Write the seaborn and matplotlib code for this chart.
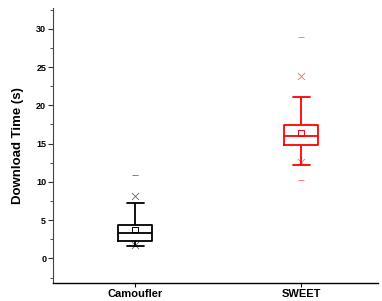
import numpy as np
import pandas as pd
import matplotlib
matplotlib.use('Agg')
import matplotlib.pyplot as plt
import seaborn as sns
from matplotlib.ticker import MultipleLocator

# =============================
# Data
# =============================
systems = ['Camoufler', 'SWEET']
colors = ['black', '#ff0000']

# five-number boxes: whisker low, q1, median, q3, whisker high
camoufler_box = [1.6, 2.26, 3.35, 4.43, 7.26]
sweet_box = [12.26, 14.86, 15.95, 17.47, 21.08]

means = [3.78, 16.34]
p01 = [1.7, 12.56]
p99 = [8.12, 23.77]
mins = [1.6, 10.26]
maxs = [10.95, 28.9]

# =============================
# Style
# =============================
sns.set_style('ticks')
plt.rcParams['font.family'] = ['Liberation Sans', 'DejaVu Sans']
plt.rcParams['font.weight'] = 'bold'
plt.rcParams['text.color'] = 'black'
plt.rcParams['axes.labelcolor'] = 'black'
plt.rcParams['xtick.color'] = 'black'
plt.rcParams['ytick.color'] = 'black'

df = pd.DataFrame({
    'system': [systems[0]] * 5 + [systems[1]] * 5,
    'time': camoufler_box + sweet_box,
})

fig = plt.figure(figsize=(3.82, 3.01), dpi=100)
ax = fig.add_axes([0.139, 0.06, 0.851, 0.913])

sns.boxplot(
    data=df, x='system', y='time', hue='system',
    palette=colors, fill=False, whis=(0, 100), width=0.205,
    linewidth=1.3, legend=False, ax=ax,
)

# extra markers (mean, 1/99 percentile, min/max)
for i, (name, c) in enumerate(zip(systems, colors)):
    sns.scatterplot(x=[name], y=[means[i]], marker='s', s=18,
                    color='none', edgecolor=c, linewidth=0.7, ax=ax, zorder=5)
    sns.scatterplot(x=[name, name], y=[p01[i], p99[i]], marker='x', s=26,
                    color=c, edgecolor=c, linewidth=0.6, alpha=0.6, ax=ax, zorder=5)
    sns.scatterplot(x=[name, name], y=[mins[i], maxs[i]], marker='_', s=22,
                    color=c, edgecolor=c, linewidth=0.6, alpha=0.6, ax=ax, zorder=5)

# =============================
# Axes
# =============================
ax.set_xlim(-0.494, 1.464)
ax.set_ylim(-3.2, 32.7)
ax.yaxis.set_major_locator(MultipleLocator(5))
ax.yaxis.set_minor_locator(MultipleLocator(2.5))
ax.tick_params(axis='y', which='major', length=3.5, width=0.8, labelsize=6.5, pad=1.5, colors='#333333', labelcolor='black')
ax.tick_params(axis='y', which='minor', length=2, width=0.6, colors='#333333')
ax.tick_params(axis='x', length=3, width=0.8, labelsize=8, pad=1.5)

ax.set_xlabel('')
ax.set_ylabel('Download Time (s)', fontsize=9.5, fontweight='bold', labelpad=9)
for lab in ax.get_xticklabels() + ax.get_yticklabels():
    lab.set_fontweight('bold')

sns.despine(ax=ax)
ax.spines['left'].set_color('#444444')
ax.spines['left'].set_linewidth(0.8)
ax.spines['bottom'].set_color('black')
ax.spines['bottom'].set_linewidth(1.0)

fig.savefig('out.png', dpi=100)
